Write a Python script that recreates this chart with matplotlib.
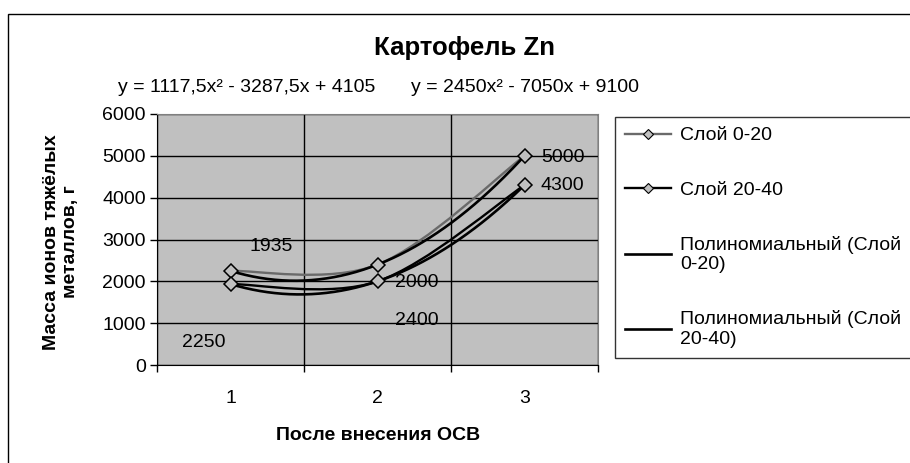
#!/usr/bin/env python3
import numpy as np
import matplotlib
matplotlib.use('Agg')
import matplotlib.pyplot as plt
from matplotlib.path import Path
from matplotlib.patches import PathPatch, Rectangle
from matplotlib.lines import Line2D

plt.rcParams['font.family'] = ['Liberation Sans', 'DejaVu Sans']

categories = [1, 2, 3]
layer_0_20 = [2250, 2400, 5000]
layer_20_40 = [1935, 2000, 4300]
series_names = ['Слой 0-20', 'Слой 20-40']
trend_names = ['Полиномиальный (Слой\n0-20)', 'Полиномиальный (Слой\n20-40)']
equations = ['y = 1117,5x² - 3287,5x + 4105', 'y = 2450x² - 7050x + 9100']
y_ticks = [0, 1000, 2000, 3000, 4000, 5000, 6000]

W, H = 910, 463
FS = 14


def smooth_path(xs, ys):
    # excel-like smoothed line (catmull-rom as cubic bezier)
    pts = np.column_stack([xs, ys]).astype(float)
    ext = np.vstack([pts[0], pts, pts[-1]])
    verts = [pts[0]]
    codes = [Path.MOVETO]
    for i in range(len(pts) - 1):
        p0, p1, p2, p3 = ext[i], ext[i + 1], ext[i + 2], ext[i + 3]
        verts += [p1 + (p2 - p0) / 6, p2 - (p3 - p1) / 6, p2]
        codes += [Path.CURVE4] * 3
    return Path(verts, codes)


fig = plt.figure(figsize=(W / 100, H / 100), dpi=100)
ax = fig.add_axes([157 / W, 1 - 365 / H, 441 / W, 251 / H])
ax.set_facecolor('#c0c0c0')

# outer chart border
fig.patches.append(Rectangle((8 / W, -0.1), 1.2, 1 - 14 / H + 0.1, transform=fig.transFigure,
                             fill=False, edgecolor='black', linewidth=1))

colors = ['#6a6a6a', 'black']
xs_fit = np.linspace(1, 3, 200)
for vals, col in zip([layer_0_20, layer_20_40], colors):
    ax.add_patch(PathPatch(smooth_path(categories, vals), fill=False, edgecolor=col,
                           linewidth=1.7, zorder=3))
for vals in [layer_0_20, layer_20_40]:
    coef = np.polyfit(categories, vals, 2)
    ax.plot(xs_fit, np.polyval(coef, xs_fit), color='black', linewidth=1.9, zorder=4)
for vals in [layer_0_20, layer_20_40]:
    ax.plot(categories, vals, linestyle='none', marker='D', markersize=7.5,
            markerfacecolor='#c0c0c0', markeredgecolor='black', markeredgewidth=1.1, zorder=5)

# data labels, placed the way excel left them
offsets_0_20 = [(-27, -72), (39, -56), (38, -2)]
offsets_20_40 = [(41, 38), (39, -1), (38, 0)]
for vals, offs in [(layer_0_20, offsets_0_20), (layer_20_40, offsets_20_40)]:
    for x, v, (dx, dy) in zip(categories, vals, offs):
        ax.annotate(str(v), (x, v), xytext=(dx, dy), textcoords='offset pixels',
                    ha='center', va='center', fontsize=FS, zorder=6)

ax.set_xlim(0.5, 3.5)
ax.set_ylim(0, 6000)
ax.set_yticks(y_ticks)
ax.set_xticks(categories)
ax.set_xticks([0.5, 1.5, 2.5, 3.5], minor=True)
ax.tick_params(axis='x', which='major', length=0, pad=18, labelsize=FS)
ax.tick_params(axis='x', which='minor', length=5, width=1, direction='out')
ax.tick_params(axis='y', length=5, width=1, direction='out', pad=3, labelsize=FS)
ax.grid(axis='y', which='major', color='black', linewidth=1)
ax.grid(axis='x', which='minor', color='black', linewidth=1)
ax.set_axisbelow(True)
for s in ['top', 'right']:
    ax.spines[s].set_color('#808080')
for s in ['left', 'bottom']:
    ax.spines[s].set_color('black')

fig.text(465 / W, 1 - 48 / H, 'Картофель Zn', ha='center', va='center',
         fontsize=18.5, fontweight='bold')
fig.text(247 / W, 1 - 88 / H, equations[0], ha='center', va='center', fontsize=FS)
fig.text(525 / W, 1 - 88 / H, equations[1], ha='center', va='center', fontsize=FS)
fig.text(61 / W, 1 - 242 / H, 'Масса ионов тяжёлых\nметаллов, г', rotation=90,
         ha='center', va='center', fontsize=FS, fontweight='bold', multialignment='center')
fig.text(378 / W, 1 - 436 / H, 'После внесения ОСВ', ha='center', va='center',
         fontsize=FS, fontweight='bold')

handles = [
    Line2D([], [], color=colors[0], linewidth=1.7, marker='D', markersize=5,
           markerfacecolor='#c0c0c0', markeredgecolor='black', markeredgewidth=0.8),
    Line2D([], [], color=colors[1], linewidth=1.7, marker='D', markersize=5,
           markerfacecolor='#c0c0c0', markeredgecolor='black', markeredgewidth=0.8),
    Line2D([], [], color='black', linewidth=1.9),
    Line2D([], [], color='black', linewidth=1.9),
]
leg = fig.legend(handles, series_names + trend_names, loc='upper left',
                 bbox_to_anchor=(615 / W, 1 - 117 / H), fontsize=FS, frameon=True,
                 fancybox=False, edgecolor='black', handlelength=2.4, handletextpad=0.45,
                 labelspacing=1.9, borderpad=0.5, borderaxespad=0)
leg.get_frame().set_linewidth(1)

fig.savefig('out.png', dpi=100)
